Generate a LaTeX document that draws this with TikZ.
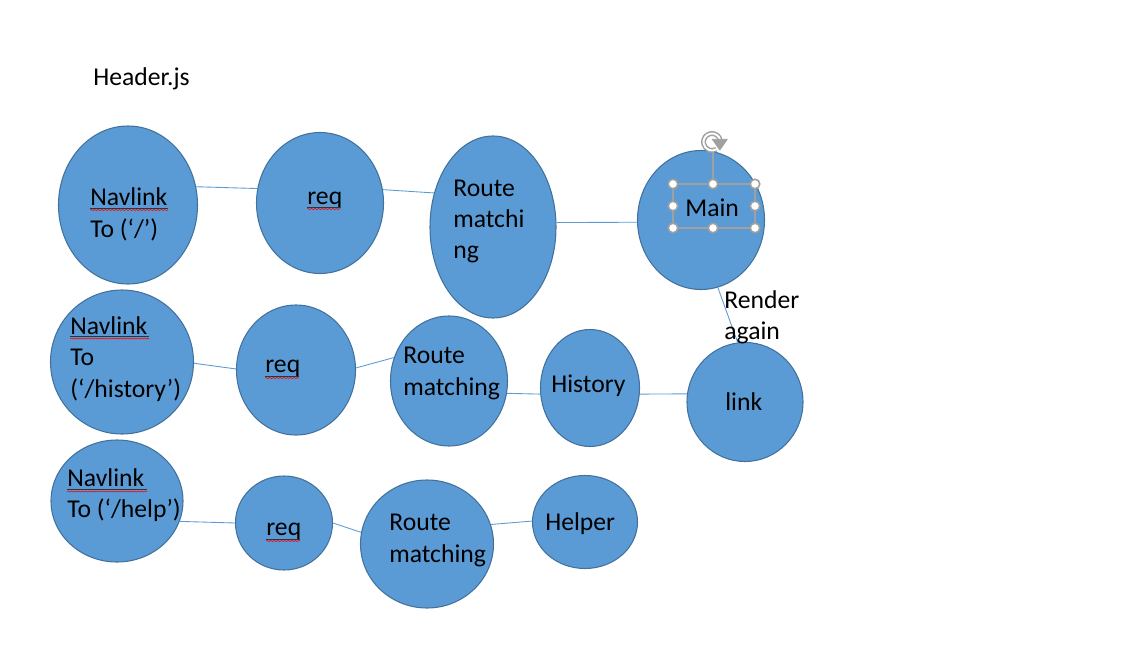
\documentclass[tikz,border=0pt]{standalone}
\usepackage{fontspec}
\setmainfont{Carlito}
\usetikzlibrary{shapes.geometric}
\usetikzlibrary{decorations.pathmorphing}
\usetikzlibrary{arrows.meta}
\definecolor{bubfill}{HTML}{5B9BD5}
\definecolor{bubedge}{HTML}{41719C}
\definecolor{wirecol}{HTML}{5B9BD5}
\definecolor{selcol}{HTML}{A0A0A0}

\begin{document}
\begin{tikzpicture}[x=0.2mm,y=-0.2mm]
  %--------------------------------------------
  % Styles
  %--------------------------------------------
  \tikzset{
    bubble/.style={ellipse, fill=bubfill, draw=bubedge, line width=0.6pt, inner sep=0pt},
    txt/.style={anchor=west, inner sep=0pt, align=left, font=\fontsize{14.6}{17.8}\selectfont},
    wire/.style={wirecol, line width=0.5pt},
    uline/.style={black!80, line width=0.35pt},
    typo/.style={red, line width=0.35pt, decorate,
      decoration={snake, amplitude=0.3pt, segment length=2pt}},
    handle/.style={fill=white, draw=selcol, line width=0.9pt}
  }

  \useasboundingbox (0,0) rectangle (1121,669);

  %--------------------------------------------
  % Bubbles, row by row
  %--------------------------------------------
  \node[bubble, minimum width=27.8mm, minimum height=31.6mm] (nav1) at (128,205) {};
  \node[bubble, minimum width=25.4mm, minimum height=28.2mm] (req1) at (320,203) {};
  \node[bubble, minimum width=25.2mm, minimum height=36.4mm] (rm1)  at (493,227) {};
  \node[bubble, minimum width=25.4mm, minimum height=27.8mm] (main) at (701,220) {};

  \node[bubble, minimum width=28.6mm, minimum height=28.8mm] (nav2) at (122,362) {};
  \node[bubble, minimum width=23.8mm, minimum height=26mm]   (req2) at (296,370) {};
  \node[bubble, minimum width=23.4mm, minimum height=26mm]   (rm2)  at (449,381) {};
  \node[bubble, minimum width=19.8mm, minimum height=23.4mm] (hist) at (590,388) {};
  \node[bubble, minimum width=23.2mm, minimum height=23.8mm] (link) at (745,402) {};

  \node[bubble, minimum width=26.4mm, minimum height=24.4mm] (nav3) at (117,501) {};
  \node[bubble, minimum width=19.4mm, minimum height=18.8mm] (req3) at (284,523) {};
  \node[bubble, minimum width=26.6mm, minimum height=25.6mm] (rm3)  at (427,544) {};
  \node[bubble, minimum width=21mm,   minimum height=18.6mm] (help) at (585,522) {};

  %--------------------------------------------
  % Connectors
  %--------------------------------------------
  \draw[wire] (nav1.15) -- (req1.167);
  \draw[wire] (req1.12) -- (rm1.150);
  \draw[wire] (rm1.4) -- (main.182);
  \draw[wire] (main.284) -- (link.97);

  \draw[wire] (nav2.-1) -- (req2.179);
  \draw[wire] (req2.2) -- (rm2.157);
  \draw[wire] (rm2.-12) -- (hist.187);
  \draw[wire] (hist.-7) -- (link.172);

  \draw[wire] (nav3.-18) -- (req3.180);
  \draw[wire] (req3.0) -- (rm3.170);
  \draw[wire] (rm3.17) -- (help.179);

  %--------------------------------------------
  % Texts
  %--------------------------------------------
  \node[txt] (head-t)  at (93,79)     {Header.js};
  \node[txt] (nav1-t)  at (90,214.5)  {Navlink\\To (‘/’)};
  \node[txt] (req1-t)  at (307,200)   {req};
  \node[txt] (rm1-t)   at (453,221.5) {Route\\matchi\\ng};
  \node[txt] (main-t)  at (685,208)   {Main};
  \node[txt] (again-t) at (724,317)   {Render\\again};

  \node[txt] (nav2-t)  at (70,359)    {Navlink\\To\\(‘/history’)};
  \node[txt] (req2-t)  at (265,368)   {req};
  \node[txt] (rm2-t)   at (403,373.5) {Route\\matching};
  \node[txt] (hist-t)  at (551,386)   {History};
  \node[txt] (link-t)  at (725,402)   {link};

  \node[txt] (nav3-t)  at (67,495.5)  {Navlink\\To (‘/help’)};
  \node[txt] (req3-t)  at (266,531)   {req};
  \node[txt] (rm3-t)   at (389,540.5) {Route\\matching};
  \node[txt] (help-t)  at (545,524)   {Helper};

  % spell-check marks under Navlink / req
  \foreach \xa/\xb/\yy in {90/168/208, 307/340/207, 70/149/336.5,
                           265/299/376, 67/147/489.5, 266/300/539}{
    \draw[uline] (\xa,\yy) -- (\xb,\yy);
    \draw[typo] (\xa,\yy+2) -- (\xb,\yy+2);
  }

  %--------------------------------------------
  % Selection frame around Main
  %--------------------------------------------
  \draw[selcol, line width=0.6pt] (673,184) rectangle (755,228);
  \draw[selcol, line width=0.6pt] (713,184) -- (713,151);
  \foreach \hx/\hy in {673/184, 713/184, 755/184, 673/206,
                       755/206, 673/228, 713/228, 755/228}{
    \draw[handle] (\hx,\hy) circle[radius=0.95mm];
  }
  % rotate handle
  \draw[selcol, line width=2.8pt] (712,142) ++(10:1.7mm)
    arc[start angle=10, end angle=300, radius=1.7mm];
  \draw[white, line width=1.1pt] (712,142) ++(10:1.7mm)
    arc[start angle=10, end angle=300, radius=1.7mm];
  \filldraw[selcol, line join=round, line width=0.5pt] (712,142) ++(10:1.7mm)
    ++(10:1.4mm) -- ++(-125:2.6mm) -- ++(125:2.6mm) -- cycle;
\end{tikzpicture}
\end{document}
